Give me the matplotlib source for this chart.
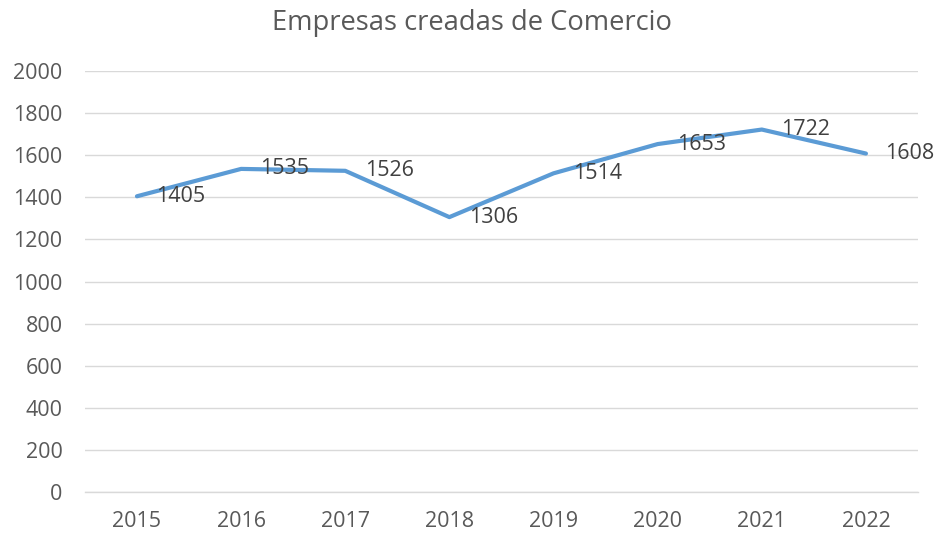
""" Empresas creadas de Comercio, line chart with data labels.
"""

import matplotlib.pyplot as plt

years = ['2015', '2016', '2017', '2018', '2019', '2020', '2021', '2022']
empresas = [1405, 1535, 1526, 1306, 1514, 1653, 1722, 1608]
y_ticks = [0, 200, 400, 600, 800, 1000, 1200, 1400, 1600, 1800, 2000]

plt.rcParams['font.family'] = ['Open Sans', 'DejaVu Sans']

fig = plt.figure(figsize=(9.43, 5.36), dpi=100)
ax = fig.add_axes([0.090, 0.082, 0.8835, 0.7855])

x = list(range(len(years)))
ax.plot(x, empresas, color='#5B9BD5', linewidth=3.0, solid_capstyle='round',
        solid_joinstyle='round', zorder=3)

for xi, val in zip(x, empresas):
    ax.annotate(str(val), (xi, val), xytext=(14, 0), textcoords='offset points',
                ha='left', va='center', fontsize=15.5, color='#404040')

ax.set_xlim(-0.5, len(years) - 0.5)
ax.set_ylim(0, 2000)
ax.set_xticks(x)
ax.set_xticklabels(years)
ax.set_yticks(y_ticks)
ax.tick_params(axis='both', length=0, labelsize=15.5, labelcolor='#595959')
ax.tick_params(axis='x', pad=14)
ax.tick_params(axis='y', pad=16)
ax.grid(axis='y', color='#D9D9D9', linewidth=1)
ax.axhline(0, color='#D9D9D9', linewidth=1, clip_on=False, zorder=1)
ax.set_axisbelow(True)
for side in ['top', 'right', 'left', 'bottom']:
    ax.spines[side].set_visible(False)

fig.suptitle('Empresas creadas de Comercio', x=0.5, y=0.984, fontsize=19.7,
             color='#595959')

fig.savefig('out.png', dpi=100)
